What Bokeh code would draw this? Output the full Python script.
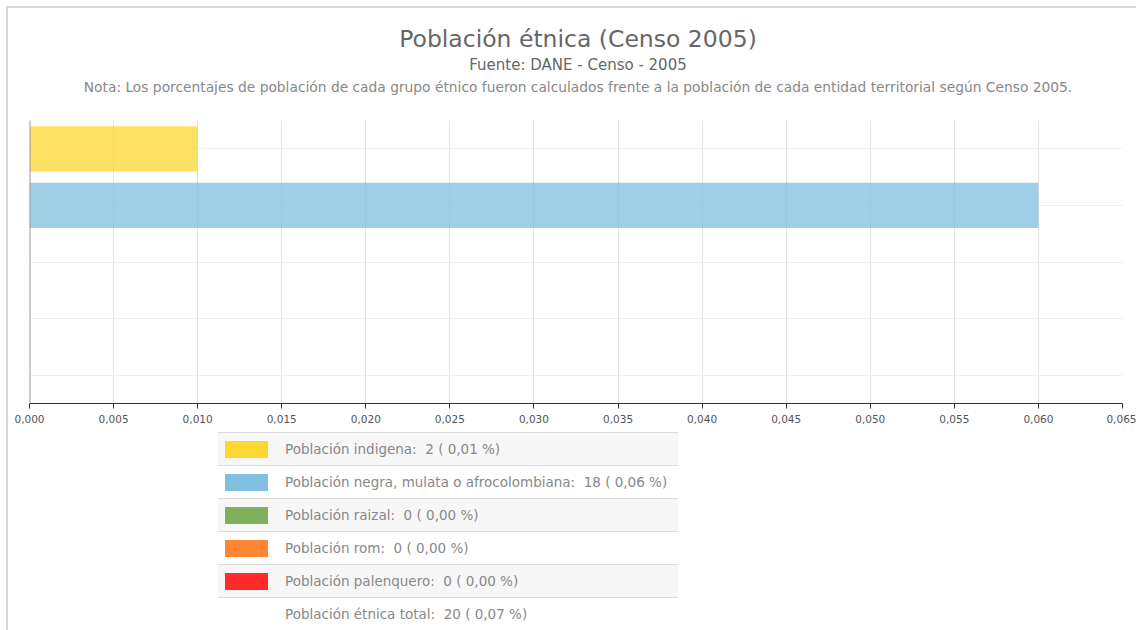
from bokeh.plotting import figure
from bokeh.models import Range1d, FactorRange, FixedTicker, CustomJSTickFormatter, Div, Span
from bokeh.layouts import column
from bokeh.embed import file_html
from bokeh.resources import INLINE

# ---- data ----
categories = ["Población indigena", "Población negra, mulata o afrocolombiana",
              "Población raizal", "Población rom", "Población palenquero"]
counts = [2, 18, 0, 0, 0]
percents = [0.01, 0.06, 0.00, 0.00, 0.00]
colors = ["#FBD72F", "#7FBFDF", "#7FB15C", "#FF8533", "#FF2A2A"]
total_label = "Población étnica total"
total_count = 20
total_percent = 0.07
x_ticks = [0.000, 0.005, 0.010, 0.015, 0.020, 0.025, 0.030, 0.035, 0.040,
           0.045, 0.050, 0.055, 0.060, 0.065]

title_text = "Población étnica (Censo 2005)"
subtitle_text = "Fuente: DANE - Censo - 2005"
note_text = ("Nota: Los porcentajes de población de cada grupo étnico fueron calculados "
             "frente a la población de cada entidad territorial según Censo 2005.")

FONT = "DejaVu Sans"

# ---- header (title block) ----
def line(text, top, size, color):
    return (f'<div style="position:absolute;left:0;top:{top}px;width:1140px;text-align:center;'
            f'font-size:{size}px;line-height:{size + 6}px;color:{color};white-space:nowrap;">'
            f'{text}</div>')

header = Div(text=(f'<div style="position:relative;width:1128px;height:112px;font-family:\'{FONT}\';">'
                   + line(title_text, 32 - 15, 23.5, "#666666")
                   + line(subtitle_text, 57 - 10, 15, "#666666")
                   + line(note_text, 80 - 10, 13.8, "#888888")
                   + "</div>"),
             width=1128, height=112, margin=(0, 0, 0, 0))

# ---- chart ----
p = figure(width=1128, height=310,
           y_range=FactorRange(factors=categories[::-1]),
           x_range=Range1d(0, 0.065),
           output_backend="svg", toolbar_location=None,
           min_border_left=21, min_border_right=14,
           min_border_top=0, min_border_bottom=27)
p.title.visible = False

p.hbar(y=categories, right=percents, height=0.8, fill_color=colors,
       fill_alpha=0.75, line_color=None)

p.outline_line_color = None

p.xgrid.ticker = FixedTicker(ticks=x_ticks)
p.xgrid.grid_line_color = "#e3e3e3"
p.ygrid.grid_line_color = "#efefef"

xa = p.xaxis[0]
xa.ticker = FixedTicker(ticks=x_ticks)
xa.formatter = CustomJSTickFormatter(code="return tick.toFixed(3).replace('.', ',');")
xa.axis_line_color = "#333333"
xa.major_tick_line_color = "#333333"
xa.major_tick_out = 5
xa.major_tick_in = 0
xa.minor_tick_line_color = None
xa.major_label_text_font = "DejaVu Sans"
xa.major_label_text_font_size = "10.5px"
xa.major_label_text_color = "#555555"
xa.major_label_standoff = 6

p.yaxis.visible = False
p.add_layout(Span(location=0, dimension="height", line_color="#999999", line_width=2))

# ---- legend table ----
def fmt(v, d=2):
    return f"{v:.{d}f}".replace(".", ",")

rows = []
for i, (c, n, pc, col) in enumerate(zip(categories, counts, percents, colors)):
    bg = "#f7f7f7" if i % 2 == 0 else "#ffffff"
    rows.append(
        f'<div style="height:33px;background:{bg};border-top:1px solid #dddddd;'
        f'position:relative;">'
        f'<div style="position:absolute;left:7px;top:8px;width:43px;height:17px;background:{col};"></div>'
        f'<div style="position:absolute;left:67px;top:0;line-height:33px;white-space:nowrap;">'
        f'{c}:&nbsp; {n} ( {fmt(pc)} %)</div></div>')
rows.append(
    f'<div style="height:33px;background:#ffffff;border-top:1px solid #dddddd;position:relative;">'
    f'<div style="position:absolute;left:67px;top:0;line-height:33px;white-space:nowrap;">'
    f'{total_label}:&nbsp; {total_count} ( {fmt(total_percent)} %)</div></div>')

legend = Div(text=(f'<div style="width:460px;font-family:\'{FONT}\';font-size:13.5px;'
                   f'color:#888888;">' + "".join(rows) + "</div>"),
             width=460, margin=(2, 0, 0, 210))

layout = column(header, p, legend, spacing=0, margin=(6, 0, 0, 6),
                styles={"border-left": "2px solid #d6d6d6", "border-top": "2px solid #d6d6d6"})

open("out.html", "w").write(file_html(layout, INLINE))
